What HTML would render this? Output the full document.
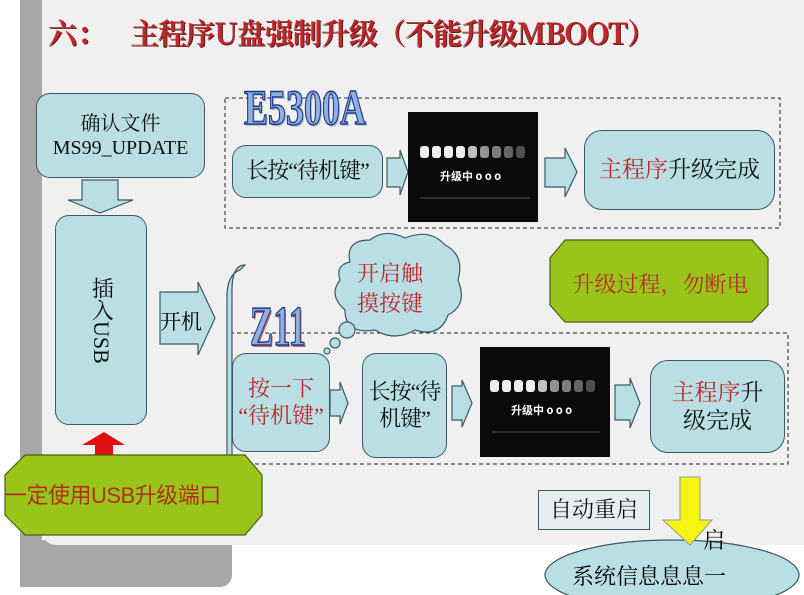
<!DOCTYPE html>
<html><head><meta charset="utf-8"><style>
body{margin:0;width:804px;height:595px;overflow:hidden;background:#fff;position:relative;font-family:"Liberation Sans","Noto Sans CJK SC",sans-serif}
.a{position:absolute}
.box{position:absolute;background:#b9dfe4;border:1.5px solid #3a5a66;border-radius:14px;box-sizing:border-box;display:flex;align-items:center;justify-content:center;text-align:center;font-family:"Liberation Serif","Noto Serif CJK SC",serif;color:#111;line-height:1.2}
.red{color:#c0262a}
</style></head><body>
<div class="a" style="left:20px;top:0;width:22px;height:587px;background:#a8a8a8"></div>
<div class="a" style="left:20px;top:540px;width:212px;height:47px;background:#a8a8a8;border-radius:0 0 12px 0"></div>
<div class="a" style="left:42px;top:0;width:762px;height:545px;background:#f0f0f0;border-radius:0 0 0 14px"></div>
<div class="a" style="left:48px;top:12px;font-size:29px;font-weight:bold;color:#c0262a;font-family:'Noto Serif CJK SC',serif;text-shadow:1px 1px 0 #5a2020;white-space:nowrap">六：</div>
<div class="a" style="left:130px;top:12px;font-size:29px;font-weight:bold;color:#c0262a;font-family:'Noto Serif CJK SC',serif;text-shadow:1px 1px 0 #5a2020;white-space:nowrap;letter-spacing:-1px">主程序U盘强制升级（不能升级MBOOT）</div>
<svg class="a" style="left:0;top:0" width="804" height="595">
<rect x="225" y="98" width="555" height="130" fill="none" stroke="#222" stroke-dasharray="4,3"/>
<rect x="230" y="333" width="558" height="131" fill="none" stroke="#222" stroke-dasharray="4,3"/>
<g fill="#b9dfe4" stroke="#3a5a66" stroke-width="1.2">
<polygon points="82,180 118,180 118,200 133,200 100,213 68,200 82,200"/>
<polygon points="160,292 198,292 198,282 215,318 198,355 198,344 160,344"/>
<path d="M232,465 L232,290 Q232,265 245,265 L240,270 Q226,275 227,300 L227,465 Z"/>
<polygon points="387,158 400,158 400,150 408,172 400,195 400,187 387,187"/>
<polygon points="545,158 565,158 565,148 577,172 565,197 565,187 545,187"/>
<polygon points="330,390 340,390 340,382 348,403 340,424 340,416 330,416"/>
<polygon points="452,386 462,386 462,380 472,403 462,427 462,420 452,420"/>
<polygon points="615,385 630,385 630,378 640,403 630,428 630,420 615,420"/>
<path d="M350,262 Q345,240 370,240 Q385,228 405,238 Q430,228 445,245 Q465,255 458,280 Q468,305 448,315 Q440,338 415,330 Q395,342 375,330 Q345,335 345,310 Q328,295 340,280 Q335,265 350,262Z"/>
<circle cx="347" cy="330" r="8"/><circle cx="335" cy="343" r="5"/><circle cx="327" cy="351" r="3"/>
<ellipse cx="672" cy="575" rx="127" ry="35"/>
</g>
<polygon points="82,445 104,432 125,445 113,445 113,460 95,460 95,445" fill="#e01010"/>
<g fill="#99c51a" stroke="#4a6010" stroke-width="1.2">
<polygon points="25,455 245,455 262,475 262,515 245,535 25,535 5,515 5,475"/>
<polygon points="565,240 752,240 768,258 768,305 752,322 565,322 550,305 550,258"/>
</g>
<polygon points="680,477 700,477 700,520 712,520 690,545 663,520 680,520" fill="#f5f510" stroke="#999" stroke-width="1"/>
<rect x="408" y="112" width="130" height="110" fill="#0a0a0a"/>
<rect x="480" y="347" width="130" height="110" fill="#0a0a0a"/>
<g fill="#eee">
<rect x="420" y="146" width="9" height="12" rx="3"/><rect x="432" y="146" width="9" height="12" rx="3"/><rect x="444" y="146" width="9" height="12" rx="3"/><rect x="456" y="146" width="9" height="12" rx="3"/><rect x="468" y="146" width="9" height="12" rx="3" opacity=".8"/><rect x="480" y="146" width="9" height="12" rx="3" opacity=".6"/><rect x="492" y="146" width="9" height="12" rx="3" opacity=".5"/><rect x="504" y="146" width="9" height="12" rx="3" opacity=".4"/><rect x="516" y="146" width="9" height="12" rx="3" opacity=".3"/>
<rect x="490" y="380" width="9" height="12" rx="3"/><rect x="502" y="380" width="9" height="12" rx="3"/><rect x="514" y="380" width="9" height="12" rx="3"/><rect x="526" y="380" width="9" height="12" rx="3"/><rect x="538" y="380" width="9" height="12" rx="3" opacity=".8"/><rect x="550" y="380" width="9" height="12" rx="3" opacity=".6"/><rect x="562" y="380" width="9" height="12" rx="3" opacity=".5"/><rect x="574" y="380" width="9" height="12" rx="3" opacity=".4"/><rect x="586" y="380" width="9" height="12" rx="3" opacity=".3"/>
</g>
<text x="440" y="180" fill="#fff" font-size="11" font-weight="bold" font-family="Noto Sans CJK SC">升级中 o o o</text>
<text x="511" y="414" fill="#fff" font-size="11" font-weight="bold" font-family="Noto Sans CJK SC">升级中 o o o</text>
<line x1="420" y1="198" x2="530" y2="198" stroke="#555"/><line x1="492" y1="432" x2="600" y2="432" stroke="#555"/>
</svg>
<div class="box" style="left:36px;top:93px;width:169px;height:85px;font-size:20px">确认文件<br>MS99_UPDATE</div>
<div class="box" style="left:55px;top:215px;width:92px;height:210px;font-size:22px"><span style="writing-mode:vertical-rl">插入USB</span></div>
<div class="a" style="left:160px;top:306px;font-size:21px;font-family:'Noto Serif CJK SC',serif">开机</div>
<div class="a" style="left:5px;top:478px;font-size:22px;color:#b0301a;white-space:nowrap;letter-spacing:-0.5px">一定使用USB升级端口</div>
<div class="a" style="left:244px;top:78px;font-size:50px;font-weight:bold;color:#8fb0e0;font-family:'Liberation Serif',serif;transform:scaleX(0.72);transform-origin:left;-webkit-text-stroke:1.5px #223a8a;text-shadow:2px 2px 0 #bcc">E5300A</div>
<div class="a" style="left:250px;top:295px;font-size:56px;font-weight:bold;color:#8fb0e0;font-family:'Liberation Serif',serif;transform:scaleX(0.62);transform-origin:left;-webkit-text-stroke:1.5px #223a8a;text-shadow:2px 2px 0 #c66">Z11</div>
<div class="box" style="left:232px;top:145px;width:151px;height:53px;font-size:22px;white-space:nowrap;letter-spacing:-1px">长按“待机键”</div>
<div class="box" style="left:584px;top:130px;width:191px;height:80px;font-size:23px;border-radius:18px"><span><span class="red">主程序</span>升级完成</span></div>
<div class="a" style="left:357px;top:258px;font-size:22px;color:#c0262a;font-family:'Noto Serif CJK SC',serif;line-height:1.35;text-align:center">开启触<br>摸按键</div>
<div class="a" style="left:553px;top:268px;width:215px;text-align:center;font-size:22px;color:#c0262a;font-family:'Noto Serif CJK SC',serif">升级过程，勿断电</div>
<div class="box red" style="left:232px;top:353px;width:98px;height:99px;font-size:22px;white-space:nowrap">按一下<br>“待机键”</div>
<div class="box" style="left:362px;top:353px;width:85px;height:105px;font-size:22px;white-space:nowrap;letter-spacing:-1px">长按“待<br>机键”</div>
<div class="box" style="left:650px;top:360px;width:135px;height:93px;font-size:23px;border-radius:18px"><span><span class="red">主程序</span>升<br>级完成</span></div>
<div class="box" style="left:538px;top:490px;width:112px;height:40px;border-radius:0;background:#e8eef0;font-size:22px">自动重启</div>
<div class="a" style="left:703px;top:524px;font-size:22px;font-family:'Noto Serif CJK SC',serif">启</div>
<div class="a" style="left:572px;top:560px;font-size:22px;font-family:'Noto Serif CJK SC',serif;white-space:nowrap">系统信息息息一</div>
</body></html>
